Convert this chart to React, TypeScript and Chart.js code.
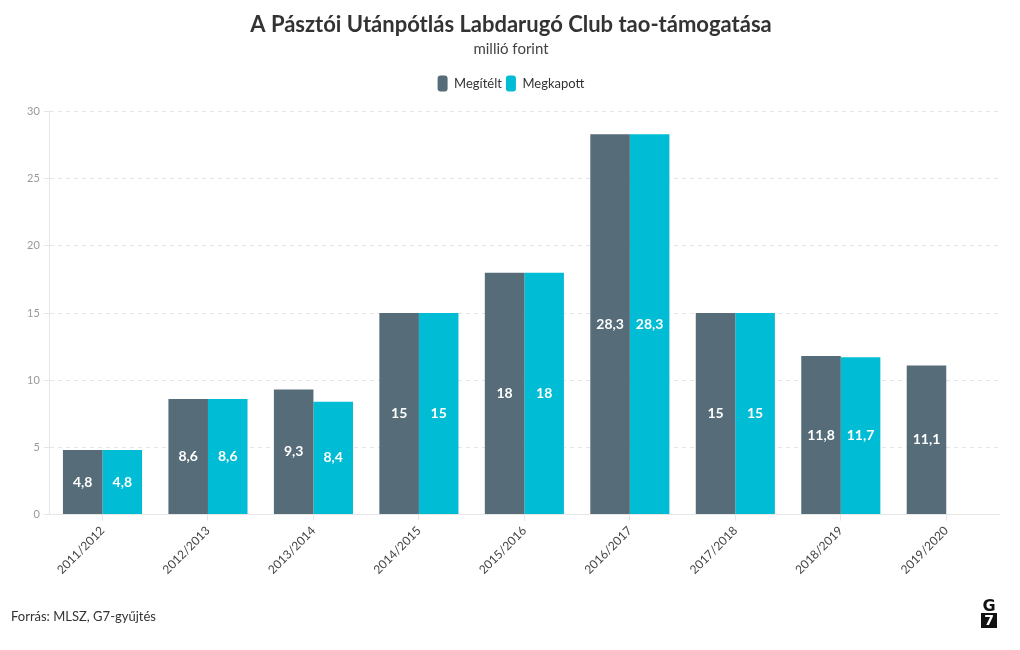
import React, { useEffect, useRef } from "react";
import { Chart, registerables } from "chart.js";

Chart.register(...registerables);

const categories = ["2011/2012", "2012/2013", "2013/2014", "2014/2015", "2015/2016", "2016/2017", "2017/2018", "2018/2019", "2019/2020"];
const megitelt = [4.8, 8.6, 9.3, 15, 18, 28.3, 15, 11.8, 11.1];
const megkapott: (number | null)[] = [4.8, 8.6, 8.4, 15, 18, 28.3, 15, 11.7, null];
const seriesNames = ["Megítélt", "Megkapott"];
const yTicks = [0, 5, 10, 15, 20, 25, 30];

const FONT = "Lato, 'Noto Sans', sans-serif";
const DARK = "#566d79";
const CYAN = "#00bcd4";

const valueLabels = {
  id: "valueLabels",
  afterDatasetsDraw(chart: any) {
    const ctx = chart.ctx;
    ctx.save();
    ctx.font = `bold 14px ${FONT}`;
    ctx.fillStyle = "#ffffff";
    ctx.textAlign = "center";
    ctx.textBaseline = "middle";
    chart.data.datasets.forEach((ds: any, i: number) => {
      const meta = chart.getDatasetMeta(i);
      meta.data.forEach((bar: any, j: number) => {
        const v = ds.data[j];
        if (v == null) return;
        const y = (bar.y + bar.base) / 2;
        ctx.fillText(String(v).replace(".", ","), bar.x, y);
      });
    });
    ctx.restore();
  },
};

const legendMargin = {
  id: "legendMargin",
  beforeInit(chart: any) {
    const orig = chart.legend.fit;
    chart.legend.fit = function () {
      orig.call(this);
      this.height += 10;
    };
  },
};

export default function App() {
  const ref = useRef<HTMLCanvasElement>(null);
  useEffect(() => {
    const chart = new Chart(ref.current!, {
      type: "bar",
      data: {
        labels: categories,
        datasets: [
          { label: seriesNames[0], data: megitelt, backgroundColor: DARK, borderWidth: 0 },
          { label: seriesNames[1], data: megkapott, backgroundColor: CYAN, borderWidth: 0 },
        ],
      },
      options: {
        animation: false,
        responsive: false,
        layout: { padding: { left: 23, right: 21, top: 0, bottom: 70 } },
        datasets: { bar: { categoryPercentage: 0.75, barPercentage: 1 } },
        plugins: {
          title: {
            display: true,
            text: "A Pásztói Utánpótlás Labdarugó Club tao-támogatása",
            color: "#333333",
            font: { family: FONT, size: 22, weight: "bold" },
            padding: { top: 12, bottom: 0 },
          },
          subtitle: {
            display: true,
            text: "millió forint",
            color: "#444444",
            font: { family: FONT, size: 15 },
            padding: { top: 2, bottom: 13 },
          },
          legend: {
            display: true,
            position: "top",
            labels: {
              boxWidth: 10,
              boxHeight: 16,
              useBorderRadius: true,
              borderRadius: 3,
              padding: 4,
              color: "#333333",
              font: { family: FONT, size: 13 },
            },
          },
          tooltip: { enabled: false },
        },
        scales: {
          x: {
            grid: { display: true, drawOnChartArea: false, drawTicks: true, tickLength: 6, offset: false, color: "#e6e6e6" },
            border: { color: "#e6e6e6" },
            ticks: { color: "#444444", font: { family: FONT, size: 12 }, maxRotation: 45, minRotation: 45 },
          },
          y: {
            min: 0,
            max: 30,
            afterBuildTicks: (axis: any) => {
              axis.ticks = yTicks.map((v) => ({ value: v }));
            },
            grid: { color: "#e6e6e6", tickLength: 6 },
            border: { color: "#e6e6e6", dash: [4, 4] },
            ticks: { color: "#999999", font: { family: FONT, size: 11 }, padding: 4 },
          },
        },
      },
      plugins: [valueLabels, legendMargin],
    } as any);
    return () => chart.destroy();
  }, []);
  return (
    <div style={{ position: "absolute", left: 0, top: 0, width: 1020, height: 650, background: "#fff", fontFamily: FONT }}>
      <canvas ref={ref} width={1020} height={650} />
      <div style={{ position: "absolute", left: 11, top: 608, fontSize: 13, color: "#333" }}>Forrás: MLSZ, G7-gyűjtés</div>
      <div style={{ position: "absolute", left: 981, top: 598, width: 16, textAlign: "center", lineHeight: "15px", fontWeight: 900, fontSize: 16, fontFamily: "'DejaVu Sans', sans-serif" }}>
        <div style={{ color: "#111" }}>G</div>
        <div style={{ background: "#111", color: "#fff", fontSize: 14 }}>7</div>
      </div>
    </div>
  );
}
